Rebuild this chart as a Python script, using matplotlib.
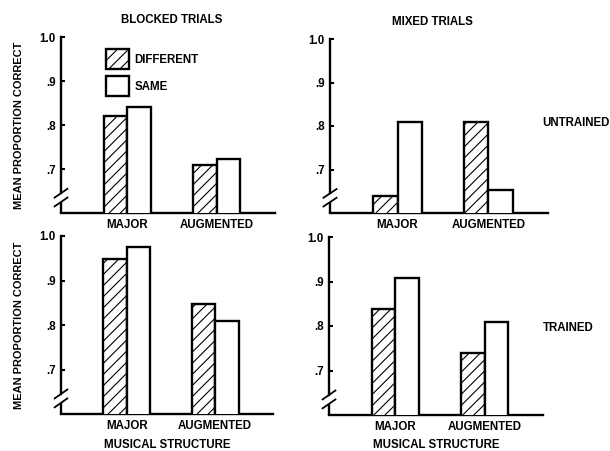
import matplotlib
matplotlib.use("Agg")
import matplotlib.pyplot as plt
from matplotlib.patches import Patch

plt.rcParams['font.family'] = ['Liberation Sans', 'DejaVu Sans']
plt.rcParams['hatch.linewidth'] = 0.8

categories = ["MAJOR", "AUGMENTED"]
series = ["DIFFERENT", "SAME"]
blocked_untrained_diff = [0.82, 0.71]
blocked_untrained_same = [0.84, 0.723]
mixed_untrained_diff = [0.638, 0.81]
mixed_untrained_same = [0.81, 0.652]
blocked_trained_diff = [0.948, 0.847]
blocked_trained_same = [0.975, 0.81]
mixed_trained_diff = [0.838, 0.739]
mixed_trained_same = [0.908, 0.81]

yticks = [0.7, 0.8, 0.9, 1.0]
yticklabels = [".7", ".8", ".9", "1.0"]
col_titles = ["BLOCKED TRIALS", "MIXED TRIALS"]
row_labels = ["UNTRAINED", "TRAINED"]
xlabel = "MUSICAL STRUCTURE"
ylabel = "MEAN PROPORTION CORRECT"

W, H = 610, 451
fig = plt.figure(figsize=(W / 100, H / 100), dpi=100)

def rect(x0, x1, ytop, ybot):
    return [x0 / W, 1 - ybot / H, (x1 - x0) / W, (ybot - ytop) / H]

panels = [
    (rect(61, 275, 37, 213), blocked_untrained_diff, blocked_untrained_same),
    (rect(330, 548, 39, 213), mixed_untrained_diff, mixed_untrained_same),
    (rect(61, 273, 236, 414), blocked_trained_diff, blocked_trained_same),
    (rect(329, 543, 237, 415), mixed_trained_diff, mixed_trained_same),
]
title_x = [0.519, 0.472]

FS = 8.3
bw = 0.265
axes = []
for i, (r, diff, same) in enumerate(panels):
    ax = fig.add_axes(r)
    axes.append(ax)
    pos = [0, 1]
    ax.bar([p - bw / 2 for p in pos], diff, width=bw, bottom=0,
           color="white", edgecolor="black", linewidth=1.7, hatch="///",
           label=series[0], zorder=3)
    ax.bar([p + bw / 2 for p in pos], same, width=bw, bottom=0,
           color="white", edgecolor="black", linewidth=1.7,
           label=series[1], zorder=3)
    ax.set_ylim(0.6, 1.0)
    ax.set_xlim(-0.743, 1.655)
    for s in ["top", "right", "left"]:
        ax.spines[s].set_visible(False)
    ax.spines["bottom"].set_linewidth(1.7)
    ax.set_yticks(yticks)
    ax.set_yticklabels(yticklabels, fontsize=FS, fontweight="bold")
    ax.tick_params(axis="y", direction="in", length=3, width=1.5, pad=4)
    ax.set_xticks(pos)
    ax.set_xticklabels(categories, fontsize=FS, fontweight="bold")
    ax.tick_params(axis="x", length=0, pad=4)
    yt = ax.get_yaxis_transform()
    ax.plot([0, 0], [1.0, 0.645], color="black", lw=1.7, transform=yt,
            clip_on=False, solid_capstyle="projecting")
    ax.plot([0, 0], [0.625, 0.6], color="black", lw=1.7, transform=yt,
            clip_on=False, solid_capstyle="butt")
    for yb in (0.625, 0.645):
        ax.plot([-0.03, 0.03], [yb - 0.01, yb + 0.01], color="black",
                lw=1.3, transform=yt, clip_on=False)
    if i % 2 == 0:
        ax.set_ylabel(ylabel, fontsize=7.9, fontweight="bold", labelpad=11)
    if i >= 2:
        bb = ax.get_position()
        fig.text((bb.x0 + bb.x1) / 2, 1 - 445 / H, xlabel, fontsize=FS,
                 fontweight="bold", ha="center", va="center")
    if i < 2:
        ax.set_title(col_titles[i], fontsize=FS, fontweight="bold", pad=10,
                     x=title_x[i])

axes[0].legend(handles=[
    Patch(facecolor="white", edgecolor="black", hatch="///", linewidth=1.7, label=series[0]),
    Patch(facecolor="white", edgecolor="black", linewidth=1.7, label=series[1])],
    loc="upper left", bbox_to_anchor=(0.183, 0.963), frameon=False,
    handlelength=2.0, handleheight=2.3, labelspacing=0.6, borderpad=0,
    handletextpad=0.5, prop={"size": FS, "weight": "bold"})

fig.text(542 / W, 1 - 123 / H, row_labels[0], fontsize=FS, fontweight="bold",
         ha="left", va="center")
fig.text(543 / W, 1 - 328 / H, row_labels[1], fontsize=FS, fontweight="bold",
         ha="left", va="center")

fig.savefig("out.png", dpi=100, facecolor="white")
